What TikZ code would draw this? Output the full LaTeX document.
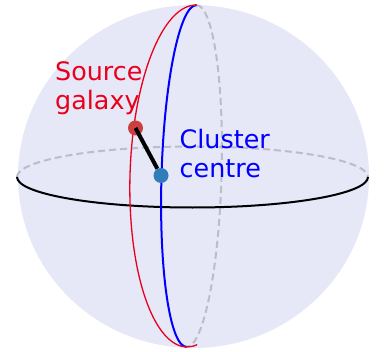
\documentclass[tikz,border=0pt]{standalone}
\usepackage{fontspec}
\setmainfont{DejaVu Sans}
\usepackage{xcolor}
\usetikzlibrary{positioning,arrows.meta,calc}
\definecolor{spherefill}{HTML}{E6E7F7}
\definecolor{backgray}{HTML}{BDBDC9}
\definecolor{srcred}{HTML}{E8001C}
\definecolor{clublue}{HTML}{0000FF}
\definecolor{srcdot}{HTML}{CC3F40}
\definecolor{cludot}{HTML}{2F7EBB}
\tikzset{
  backline/.style={backgray, line width=2pt, dash pattern=on 7pt off 4pt},
  dotnode/.style={circle, inner sep=0pt, minimum size=15pt},
  labelnode/.style={font=\fontsize{25.4}{29}\selectfont, align=left, anchor=west, inner sep=0pt}
}
\begin{document}
\begin{tikzpicture}[x=1pt, y=1pt]
  \useasboundingbox (0,0) rectangle (390,351);
  % sphere
  \fill[spherefill] (193.5,174.5) ellipse [x radius=175.5, y radius=171.5];

  % back halves
  \draw[backline] (17,174) arc [start angle=180, end angle=0, x radius=175.5, y radius=30.5];
  \begin{scope}[shift={(191.5,175)}, rotate=-1.7]
    \draw[backline] (0,171) arc [start angle=90, end angle=-90, x radius=30, y radius=171];
  \end{scope}

  % front halves
  \draw[black, line width=2pt] (17,174) arc [start angle=180, end angle=360, x radius=175.5, y radius=30.5];
  \begin{scope}[shift={(191.5,175)}, rotate=-1.7]
    \draw[clublue, line width=2pt] (0,171) arc [start angle=90, end angle=270, x radius=30, y radius=171];
    \draw[srcred, line width=1.3pt] (0,171) arc [start angle=90, end angle=280, x radius=61.5, y radius=171];
  \end{scope}

  % galaxy and centre
  \node[dotnode, fill=srcdot] (source) at (135.5,223) {};
  \node[dotnode, fill=cludot] (centre) at (161,175.5) {};
  \draw[line width=4pt, black] (source.center) -- (centre);

  \node[labelnode, text=srcred] (sourcelabel) at (55,262.5) {Source\\galaxy};
  \node[labelnode, text=clublue] (centrelabel) at (179.5,197) {Cluster\\centre};
\end{tikzpicture}
\end{document}
